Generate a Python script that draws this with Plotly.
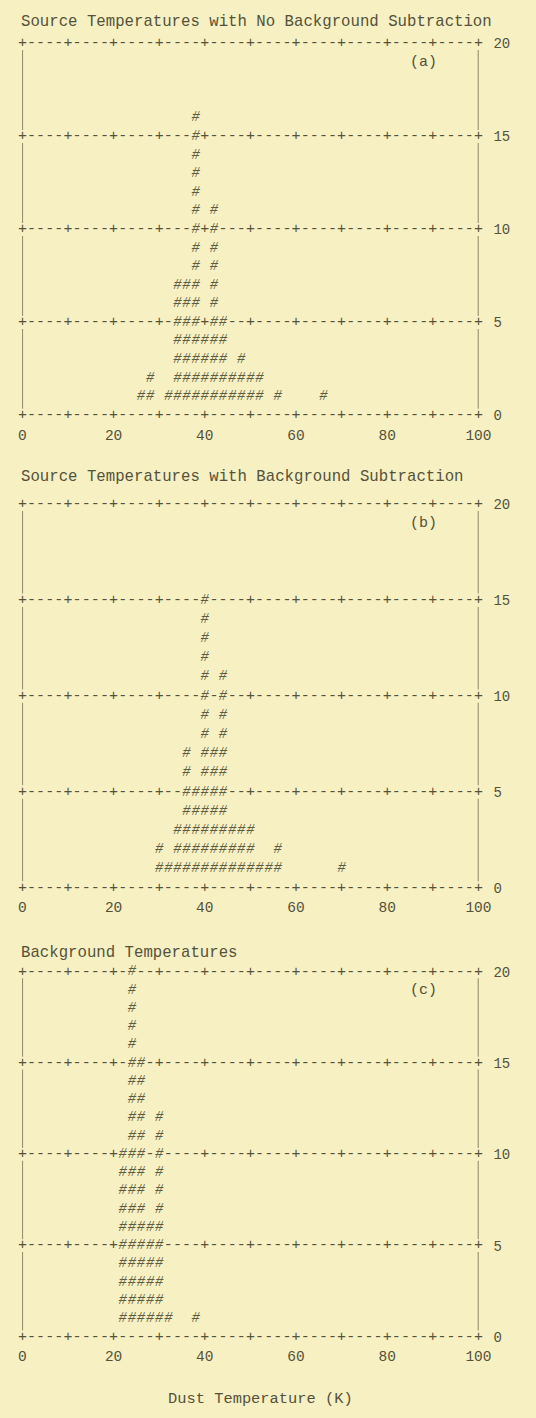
import plotly.graph_objects as go

# ---------------- data ----------------
TITLES = ["Source Temperatures with No Background Subtraction",
          "Source Temperatures with Background Subtraction",
          "Background Temperatures"]
PANEL_TAGS = ["(a)", "(b)", "(c)"]
X_TITLE = "Dust Temperature (K)"

# bin centres (K) and number of sources per bin
a_temp = [26, 28, 32, 34, 36, 38, 40, 42, 44, 46, 48, 50, 52, 56, 66]
a_count = [1, 2, 1, 7, 7, 16, 4, 11, 5, 2, 3, 2, 2, 1, 1]

b_temp = [30, 32, 34, 36, 38, 40, 42, 44, 46, 48, 50, 52, 54, 56, 70]
b_count = [2, 1, 3, 7, 5, 15, 7, 11, 3, 3, 3, 1, 1, 2, 1]

c_temp = [22, 24, 26, 28, 30, 32, 38]
c_count = [10, 20, 15, 6, 12, 1, 1]

x_ticks = [0, 20, 40, 60, 80, 100]
x_marks = [0, 10, 20, 30, 40, 50, 60, 70, 80, 90, 100]
y_ticks = [0, 5, 10, 15, 20]
char_step = 2  # one printer column = 2 K

# ---------------- styling ----------------
W, H = 536, 1418
BG = "#f6f0c3"
INK = "#55523a"
HASH_INK = "#5f5c42"
FONT = "Liberation Mono"

X_PX = (19, 490)
PANEL_PX = [(37, 413), (503, 891), (976, 1345)]   # (top, bottom) pixel rows
TITLE_PX = [15, 475, 957]


def px(xp):
    return xp / W


def py(yp):
    return 1 - yp / H


fig = go.Figure()
panels = [(a_temp, a_count), (b_temp, b_count), (c_temp, c_count)]

shapes = []
annotations = []
for i, (temps, counts) in enumerate(panels):
    n = i + 1
    xa = "x" if n == 1 else f"x{n}"
    ya = "y" if n == 1 else f"y{n}"
    occupied = {}
    hx, hy = [], []
    for t, c in zip(temps, counts):
        occupied[t] = c
        for r in range(1, c + 1):
            hx.append(t)
            hy.append(r)
    # histogram glyphs
    fig.add_trace(go.Scatter(
        x=hx, y=hy, mode="text", text=["#"] * len(hx),
        textfont=dict(family=FONT, size=14, color=HASH_INK, style="italic"),
        xaxis=xa, yaxis=ya, cliponaxis=False, showlegend=False, hoverinfo="skip"))
    # printed frame rows: '+' at every 10 K, '-' between
    lx, ly, lt = [], [], []
    for yv in y_ticks:
        for xv in range(x_marks[0], x_marks[-1] + 1, char_step):
            if occupied.get(xv, 0) >= yv and yv > 0:
                continue
            lx.append(xv)
            ly.append(yv)
            lt.append("+" if xv in x_marks else "-")
    fig.add_trace(go.Scatter(
        x=lx, y=ly, mode="text", text=lt,
        textfont=dict(family=FONT, size=15, color=INK),
        xaxis=xa, yaxis=ya, cliponaxis=False, showlegend=False, hoverinfo="skip"))
    # vertical sides
    for xv in (x_marks[0], x_marks[-1]):
        for k in range(len(y_ticks) - 1):
            shapes.append(dict(type="line", xref=xa, yref=ya,
                               x0=xv, x1=xv, y0=y_ticks[k] + 0.35, y1=y_ticks[k + 1] - 0.35,
                               line=dict(color=INK, width=1.3)))
    top, bot = PANEL_PX[i]
    fig.update_layout(**{
        ("xaxis" if n == 1 else f"xaxis{n}"): dict(
            domain=[px(X_PX[0]), px(X_PX[1])], range=[0, 100], anchor=ya,
            tickvals=x_ticks, ticktext=[str(v) for v in x_ticks],
            showgrid=False, zeroline=False, showline=False, ticks="",
            ticklabelstandoff=9,
            tickfont=dict(family=FONT, size=14.5, color=INK), fixedrange=True),
        ("yaxis" if n == 1 else f"yaxis{n}"): dict(
            domain=[py(bot), py(top)], range=[0, 20], anchor=xa, side="right",
            tickvals=y_ticks, ticktext=[str(v) for v in y_ticks],
            showgrid=False, zeroline=False, showline=False, ticks="",
            ticklabelstandoff=14,
            tickfont=dict(family=FONT, size=14, color=INK), fixedrange=True),
    })
    annotations.append(dict(text=TITLES[i], xref="paper", yref="paper",
                            x=px(16), y=py(TITLE_PX[i]), xanchor="left", yanchor="middle",
                            showarrow=False, font=dict(family=FONT, size=15.7, color=INK)))
    annotations.append(dict(text=PANEL_TAGS[i], xref=xa, yref=ya, x=88, y=19,
                            xanchor="center", yanchor="middle", showarrow=False,
                            font=dict(family=FONT, size=15, color=INK)))

# stray "0" printed before the 5-line in panel (b)
annotations.append(dict(text="0", xref="x2", yref="y2", x=-2, y=5, xanchor="center",
                        yanchor="middle", showarrow=False,
                        font=dict(family=FONT, size=14, color=INK)))
annotations.append(dict(text=X_TITLE, xref="paper", yref="paper", x=px(265), y=py(1408),
                        xanchor="center", yanchor="middle", showarrow=False,
                        font=dict(family=FONT, size=15.4, color=INK)))

fig.update_layout(
    width=W, height=H, margin=dict(l=0, r=0, t=0, b=0),
    paper_bgcolor=BG, plot_bgcolor=BG,
    shapes=shapes, annotations=annotations, showlegend=False,
)

fig.write_html(
    "out.html",
    config={"displayModeBar": False},
    post_script="document.body.style.margin='0';document.body.style.padding='0';"
                "document.body.style.overflow='hidden';"
                "document.body.style.background='" + BG + "';",
)
